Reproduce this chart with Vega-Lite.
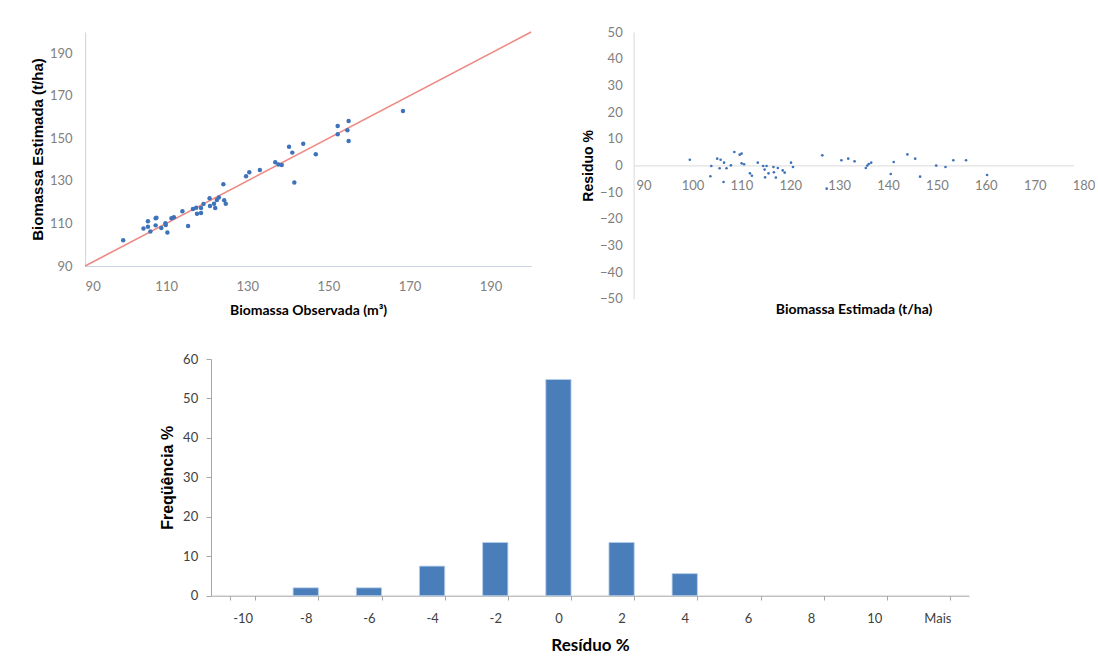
{
  "$schema": "https://vega.github.io/schema/vega-lite/v6.json",
  "padding": {"left": 30, "top": 26, "right": 0, "bottom": 0},
  "background": "white",
  "config": {"view": {"stroke": null}, "axis": {"grid": false}, "font": "Lato"},
  "datasets": {
    "diag": [{"x": 90, "y": 90}, {"x": 200, "y": 200}],
    "obsest": [
      {"obs": 99.4, "est": 102.1}, {"obs": 104.4, "est": 107.6}, {"obs": 105.5, "est": 111.0}, {"obs": 105.5, "est": 108.5},
      {"obs": 106.1, "est": 106.2}, {"obs": 107.4, "est": 112.4}, {"obs": 107.6, "est": 112.7}, {"obs": 107.4, "est": 109.1},
      {"obs": 108.8, "est": 107.9}, {"obs": 109.8, "est": 110.1}, {"obs": 109.9, "est": 109.3}, {"obs": 110.3, "est": 105.8},
      {"obs": 111.3, "est": 112.4}, {"obs": 111.9, "est": 112.9}, {"obs": 114.0, "est": 115.7}, {"obs": 115.4, "est": 108.8},
      {"obs": 116.6, "est": 116.8}, {"obs": 117.4, "est": 117.4}, {"obs": 117.6, "est": 114.6}, {"obs": 118.6, "est": 117.3},
      {"obs": 118.6, "est": 114.9}, {"obs": 119.2, "est": 119.2}, {"obs": 120.7, "est": 121.8}, {"obs": 120.8, "est": 118.2},
      {"obs": 121.8, "est": 119.3}, {"obs": 122.1, "est": 117.3}, {"obs": 122.5, "est": 121.0}, {"obs": 123.0, "est": 122.2},
      {"obs": 124.1, "est": 128.4}, {"obs": 124.3, "est": 120.9}, {"obs": 124.7, "est": 119.3}, {"obs": 129.7, "est": 132.2},
      {"obs": 130.5, "est": 134.1}, {"obs": 133.1, "est": 135.1}, {"obs": 136.9, "est": 138.8}, {"obs": 137.7, "est": 137.7},
      {"obs": 138.5, "est": 137.5}, {"obs": 140.3, "est": 146.1}, {"obs": 141.1, "est": 143.3}, {"obs": 141.6, "est": 129.2},
      {"obs": 143.8, "est": 147.5}, {"obs": 146.9, "est": 142.5}, {"obs": 152.3, "est": 155.8}, {"obs": 152.3, "est": 151.9},
      {"obs": 154.7, "est": 153.8}, {"obs": 155.0, "est": 158.2}, {"obs": 155.0, "est": 148.8}, {"obs": 168.4, "est": 162.9}
    ],
    "resid": [
      {"est": 101.5, "res": 2.1}, {"est": 105.7, "res": -4.1}, {"est": 105.9, "res": -0.25}, {"est": 107.1, "res": 2.5},
      {"est": 107.6, "res": -1.1}, {"est": 107.8, "res": 2.1}, {"est": 108.4, "res": -6.25}, {"est": 108.5, "res": 1.0},
      {"est": 109.0, "res": -1.1}, {"est": 109.9, "res": 0.0}, {"est": 110.6, "res": 5.0}, {"est": 111.7, "res": 4.0},
      {"est": 112.1, "res": 4.4}, {"est": 112.1, "res": 0.75}, {"est": 112.6, "res": 0.4}, {"est": 113.8, "res": -3.0},
      {"est": 114.2, "res": -3.9}, {"est": 115.4, "res": 1.0}, {"est": 116.5, "res": -0.25}, {"est": 116.8, "res": -1.6},
      {"est": 116.9, "res": -4.5}, {"est": 117.2, "res": -0.25}, {"est": 117.6, "res": -3.0}, {"est": 118.6, "res": -0.6},
      {"est": 118.7, "res": -2.6}, {"est": 119.1, "res": -4.6}, {"est": 119.5, "res": -1.0}, {"est": 120.5, "res": -1.9},
      {"est": 120.9, "res": -2.75}, {"est": 122.2, "res": 1.0}, {"est": 122.6, "res": -0.6}, {"est": 128.6, "res": 3.75},
      {"est": 129.5, "res": -8.75}, {"est": 132.5, "res": 1.9}, {"est": 133.9, "res": 2.5}, {"est": 135.2, "res": 1.5},
      {"est": 137.5, "res": -1.0}, {"est": 137.8, "res": -0.1}, {"est": 138.1, "res": 0.5}, {"est": 138.6, "res": 1.0},
      {"est": 142.6, "res": -3.25}, {"est": 143.2, "res": 1.25}, {"est": 146.0, "res": 4.1}, {"est": 147.6, "res": 2.5},
      {"est": 148.6, "res": -4.25}, {"est": 151.9, "res": -0.1}, {"est": 153.8, "res": -0.6}, {"est": 155.4, "res": 1.9},
      {"est": 158.0, "res": 1.9}, {"est": 162.3, "res": -3.6}
    ],
    "hist": [
      {"bin": "-10", "freq": 0}, {"bin": "-8", "freq": 2.0}, {"bin": "-6", "freq": 2.0}, {"bin": "-4", "freq": 7.5},
      {"bin": "-2", "freq": 13.5}, {"bin": "0", "freq": 54.8}, {"bin": "2", "freq": 13.5}, {"bin": "4", "freq": 5.6},
      {"bin": "6", "freq": 0}, {"bin": "8", "freq": 0}, {"bin": "10", "freq": 0}, {"bin": "Mais", "freq": 0}
    ]
  },
  "spacing": 36,
  "center": true,
  "vconcat": [
    {
      "bounds": "flush",
      "spacing": 102.5,
      "hconcat": [
        {
          "width": 446,
          "height": 234,
          "layer": [
            {
              "data": {"name": "diag"},
              "mark": {"type": "line", "color": "#EE8A84", "strokeWidth": 1.6},
              "encoding": {
                "x": {"field": "x", "type": "quantitative"},
                "y": {"field": "y", "type": "quantitative"}
              }
            },
            {
              "data": {"name": "obsest"},
              "mark": {"type": "circle", "size": 20, "color": "#3E73B9", "opacity": 1},
              "encoding": {
                "x": {
                  "field": "obs", "type": "quantitative",
                  "scale": {"domain": [90, 200], "nice": false, "zero": false},
                  "axis": {
                    "title": "Biomassa Observada (m³)", "values": [90, 110, 130, 150, 170, 190],
                    "ticks": false, "domainColor": "#C9D3E3", "labelColor": "#808080", "labelFont": "Lato", "labelFontSize": 13,
                    "labelPadding": 14, "titleFont": "Lato", "titleFontSize": 14, "titleFontWeight": "bold", "titleColor": "#000000", "titlePadding": 10
                  }
                },
                "y": {
                  "field": "est", "type": "quantitative",
                  "scale": {"domain": [90, 200], "nice": false, "zero": false},
                  "axis": {
                    "title": "Biomassa Estimada (t/ha)", "values": [90, 110, 130, 150, 170, 190],
                    "ticks": false, "domainColor": "#C9D3E3", "labelColor": "#808080", "labelFont": "Lato", "labelFontSize": 13,
                    "labelPadding": 13, "titleFont": "Liberation Sans", "titleFontSize": 15, "titleFontWeight": "bold", "titleColor": "#000000", "titlePadding": 4
                  }
                }
              }
            }
          ]
        },
        {
          "width": 440,
          "height": 266.7,
          "data": {"name": "resid"},
          "mark": {"type": "circle", "size": 7, "color": "#3E73B9", "opacity": 1},
          "encoding": {
            "x": {
              "field": "est", "type": "quantitative",
              "scale": {"domain": [90, 180], "nice": false, "zero": false},
              "axis": {
                "title": "Biomassa Estimada (t/ha)", "values": [90, 100, 110, 120, 130, 140, 150, 160, 170, 180],
                "offset": -133.3, "labelOffset": 10, "ticks": false, "domainColor": "#D9D9D9", "labelColor": "#808080",
                "labelFont": "Lato", "labelFontSize": 13, "labelPadding": 14, "labelFlush": false,
                "titleFont": "Lato", "titleFontSize": 14, "titleFontWeight": "bold", "titleColor": "#000000", "titleY": 137
              }
            },
            "y": {
              "field": "res", "type": "quantitative",
              "scale": {"domain": [-50, 50], "nice": false},
              "axis": {
                "title": "Residuo %", "values": [-50, -40, -30, -20, -10, 0, 10, 20, 30, 40, 50],
                "ticks": false, "domainColor": "#D9D9D9", "labelColor": "#808080", "labelFont": "Lato", "labelFontSize": 13,
                "labelPadding": 11.4, "titleFont": "Liberation Sans", "titleFontSize": 14, "titleFontWeight": "bold", "titleColor": "#000000", "titlePadding": 4
              }
            }
          }
        }
      ]
    },
    {
      "width": 758,
      "height": 236.7,
      "data": {"name": "hist"},
      "mark": {"type": "bar", "color": "#4A7EBB", "stroke": "#B9CFEA", "strokeWidth": 0.8},
      "encoding": {
        "x": {
          "field": "bin", "type": "ordinal",
          "sort": ["-10", "-8", "-6", "-4", "-2", "0", "2", "4", "6", "8", "10", "Mais"],
          "scale": {"paddingInner": 0.6, "paddingOuter": 0.3},
          "axis": {
            "title": "Resíduo %", "labelAngle": 0, "tickBand": "extent", "tickSize": 4.3, "tickColor": "#A6A6A6", "domainColor": "#A6A6A6",
            "labelColor": "#404040", "labelFont": "Lato", "labelFontSize": 13, "labelPadding": 12,
            "titleFont": "Lato", "titleFontSize": 17, "titleFontWeight": "bold", "titleColor": "#000000", "titlePadding": 12
          }
        },
        "y": {
          "field": "freq", "type": "quantitative",
          "scale": {"domain": [0, 60], "nice": false},
          "axis": {
            "title": "Freqüência %", "values": [0, 10, 20, 30, 40, 50, 60], "tickSize": 5, "tickColor": "#A6A6A6", "domainColor": "#A6A6A6",
            "labelColor": "#404040", "labelFont": "Lato", "labelFontSize": 13, "labelPadding": 8.3,
            "titleFont": "Liberation Sans", "titleFontSize": 16, "titleFontWeight": "bold", "titleColor": "#000000", "titlePadding": 7
          }
        },
        "strokeOpacity": {"condition": {"test": "datum.freq > 0", "value": 1}, "value": 0}
      }
    }
  ]
}
